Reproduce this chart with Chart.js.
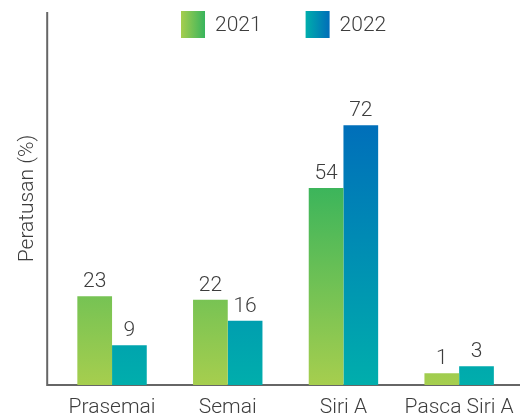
<!DOCTYPE html>
<html>
<head>
<meta charset="utf-8">
<script src="https://cdn.jsdelivr.net/npm/chart.js@4.4.1/dist/chart.umd.min.js"></script>
<style>
    html, body { margin: 0; padding: 0; background: #fff; }
    #wrap { width: 521px; height: 418px; }
</style>
</head>
<body>
<div id="wrap"><canvas id="bar"></canvas></div>
<script>
    // data
    var categories = ['Prasemai', 'Semai', 'Siri A', 'Pasca Siri A'];
    var seriesNames = ['2021', '2022'];
    var values2021 = [23, 22, 54, 1];
    var values2022 = [9, 16, 72, 3];

    var yMin = -2.4;
    var yMax = 104.4;
    var textColor = '#3d3d3d';
    var axisColor = '#666666';
    var fontFamily = 'Roboto, "Noto Sans", sans-serif';

    // vertical gradient, fixed to the value axis (bottom colour at the base line)
    function barGradient(bottomColor, topColor, topValue) {
        return function (c) {
            var chart = c.chart;
            if (!chart.chartArea) return bottomColor;
            var y = chart.scales.y;
            var g = chart.ctx.createLinearGradient(0, y.getPixelForValue(yMin), 0, y.getPixelForValue(topValue));
            g.addColorStop(0, bottomColor);
            g.addColorStop(1, topColor);
            return g;
        };
    }

    var legendColors = [['#a6ce4e', '#38b45c'], ['#00aeac', '#006db9']];

    // axis lines drawn a bit wider than the plot area
    var axisLines = {
        id: 'axisLines',
        beforeDatasetsDraw: function (chart) {
            var ctx = chart.ctx, a = chart.chartArea;
            ctx.save();
            ctx.strokeStyle = axisColor;
            ctx.lineWidth = 2;
            ctx.beginPath();
            ctx.moveTo(a.left - 7, a.top);
            ctx.lineTo(a.left - 7, a.bottom + 1);
            ctx.moveTo(a.left - 8, a.bottom);
            ctx.lineTo(a.right + 3, a.bottom);
            ctx.stroke();
            ctx.restore();
        }
    };

    // value labels above each bar
    var valueLabels = {
        id: 'valueLabels',
        afterDatasetsDraw: function (chart) {
            var ctx = chart.ctx;
            ctx.save();
            ctx.font = '300 21px ' + fontFamily;
            ctx.fillStyle = textColor;
            ctx.textAlign = 'center';
            ctx.textBaseline = 'alphabetic';
            chart.data.datasets.forEach(function (ds, i) {
                chart.getDatasetMeta(i).data.forEach(function (bar, j) {
                    ctx.fillText(String(ds.data[j]), bar.x, bar.y - 9);
                });
            });
            ctx.restore();
        }
    };

    // legend with horizontal gradient boxes
    var gradientLegend = {
        id: 'gradientLegend',
        afterDraw: function (chart) {
            var ctx = chart.ctx, a = chart.chartArea;
            ctx.save();
            ctx.font = '300 21px ' + fontFamily;
            var boxW = 24, boxH = 27, gap = 10, itemGap = 44;
            var widths = chart.data.datasets.map(function (ds) { return ctx.measureText(ds.label).width; });
            var total = 0;
            widths.forEach(function (w, i) { total += boxW + gap + w + (i ? itemGap : 0); });
            var x = (a.left - 7 + a.right + 3) / 2 - total / 2;
            var top = 11;
            chart.data.datasets.forEach(function (ds, i) {
                var g = ctx.createLinearGradient(x, 0, x + boxW, 0);
                g.addColorStop(0, legendColors[i][0]);
                g.addColorStop(1, legendColors[i][1]);
                ctx.fillStyle = g;
                ctx.fillRect(x, top, boxW, boxH);
                ctx.fillStyle = textColor;
                ctx.textAlign = 'left';
                ctx.textBaseline = 'middle';
                ctx.fillText(ds.label, x + boxW + gap, top + boxH / 2 + 1);
                x += boxW + gap + widths[i] + itemGap;
            });
            ctx.restore();
        }
    };

    function generateChart() {
        var ctx = document.getElementById('bar').getContext('2d');
        new Chart(ctx, {
            type: 'bar',
            data: {
                labels: categories,
                datasets: [
                    {
                        label: seriesNames[0],
                        data: values2021,
                        base: yMin,
                        backgroundColor: barGradient('#a6ce4e', '#3cb55b', Math.max.apply(null, values2021))
                    },
                    {
                        label: seriesNames[1],
                        data: values2022,
                        base: yMin,
                        backgroundColor: barGradient('#00aeac', '#006fba', Math.max.apply(null, values2022))
                    }
                ]
            },
            options: {
                responsive: true,
                maintainAspectRatio: false,
                animation: false,
                datasets: {
                    bar: { categoryPercentage: 0.6, barPercentage: 1.0, borderWidth: 0 }
                },
                layout: { padding: { top: 12, right: 4, left: 0, bottom: -13 } },
                plugins: {
                    legend: { display: false },
                    tooltip: { enabled: false }
                },
                scales: {
                    x: {
                        grid: { display: false, drawTicks: false },
                        border: { display: false },
                        ticks: {
                            color: textColor,
                            padding: 1,
                            maxRotation: 0,
                            minRotation: 0,
                            autoSkip: false,
                            font: { family: fontFamily, size: 21, weight: 300, lineHeight: '44px' }
                        }
                    },
                    y: {
                        min: yMin,
                        max: yMax,
                        grid: { display: false },
                        border: { display: false },
                        ticks: { display: false },
                        title: {
                            display: true,
                            text: 'Peratusan (%)',
                            color: textColor,
                            padding: { top: 15, bottom: 6 },
                            font: { family: fontFamily, size: 21, weight: 300 }
                        }
                    }
                }
            },
            plugins: [axisLines, valueLabels, gradientLegend]
        });
    }

    generateChart();
</script>
</body>
</html>
